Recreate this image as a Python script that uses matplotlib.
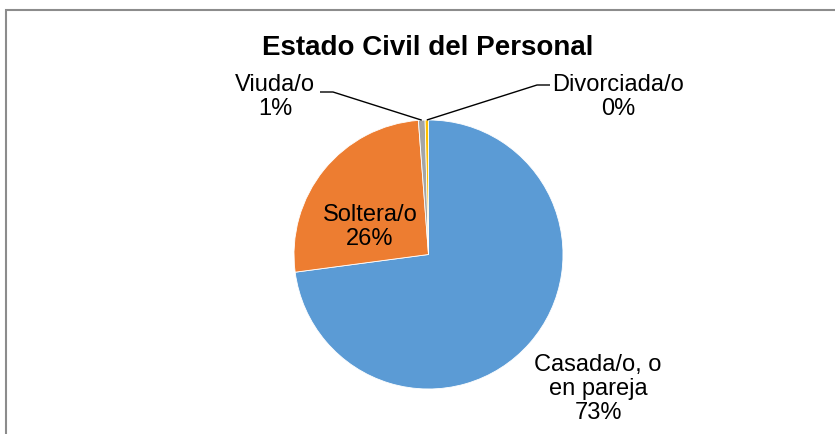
import matplotlib
matplotlib.use("Agg")
import matplotlib.pyplot as plt
from matplotlib.patches import Rectangle
import numpy as np

plt.rcParams['font.family'] = ['Liberation Sans', 'DejaVu Sans']

title = "Estado Civil del Personal"
categories = ["Casada/o, o\nen pareja", "Soltera/o", "Viuda/o", "Divorciada/o"]
values = [72.9, 25.9, 0.8, 0.4]
colors = ["#5B9BD5", "#ED7D31", "#A5A5A5", "#FFC000"]

W, H = 835, 434
fig = plt.figure(figsize=(W / 100, H / 100), dpi=100)
ax = fig.add_axes([0, 0, 1, 1])

cx, cy, r = 428.5, H - 254.5, 134.5
wedges, _ = ax.pie(values, colors=colors, startangle=90, counterclock=False,
                   center=(cx, cy), radius=r,
                   wedgeprops=dict(edgecolor='white', linewidth=0.6))
ax.set_xlim(0, W)
ax.set_ylim(0, H)
ax.set_aspect('equal')
ax.axis('off')

total = sum(values)
pct = [f"{round(v / total * 100)}%" for v in values]
labels = [f"{c}\n{p}" for c, p in zip(categories, pct)]

fs = 17
# label positions (pixels from top-left)
pos = [(598, 389), (370, 227), (275, 97), (618, 97)]
for lab, (px, py) in zip(labels, pos):
    ax.text(px, H - py, lab, ha='center', va='center', fontsize=fs,
            color='black', linespacing=1.12)

# leader lines for small slices, anchored at wedge mid-angle on edge
for i, (hx0, hx1, hy) in zip([2, 3], [(320, 333, 92), (550, 537, 85)]):
    w = wedges[i]
    ang = np.deg2rad((w.theta1 + w.theta2) / 2)
    ex, ey = cx + r * np.cos(ang), cy + r * np.sin(ang)
    ax.plot([hx0, hx1, ex], [H - hy, H - hy, ey], color='black', lw=1.0,
            solid_capstyle='butt')

ax.text(428, H - 48, title, ha='center', va='center', fontsize=20,
        fontweight='bold')

fig.patches.append(Rectangle((6 / W, -0.1), 1.1, (H - 10) / H + 0.1,
                             transform=fig.transFigure, fill=False,
                             edgecolor='#8C8C8C', lw=1.5))

fig.savefig("out.png", dpi=100)
